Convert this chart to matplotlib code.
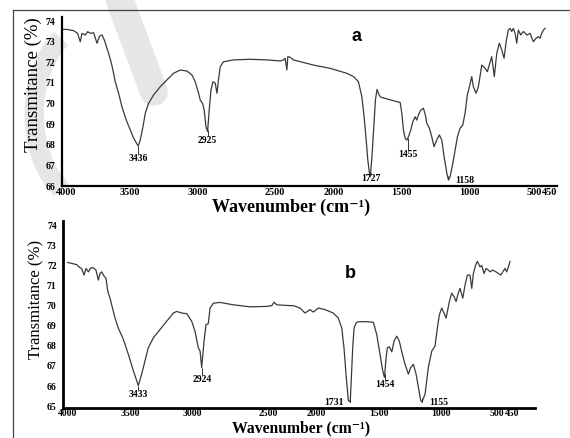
import numpy as np
import matplotlib
matplotlib.use("Agg")
import matplotlib.pyplot as plt
from matplotlib.lines import Line2D
from matplotlib.patches import Arc
from matplotlib.transforms import ScaledTranslation

# ---- data ----
wn_a = [4000, 3960, 3911, 3882, 3862, 3849, 3825, 3808, 3788, 3764, 3739, 3720, 3702, 3686,
        3666, 3654, 3636, 3622, 3605, 3580, 3556, 3524, 3494, 3470, 3445, 3436, 3421, 3401,
        3384, 3360, 3323, 3274, 3225, 3176, 3127, 3078, 3041, 3017, 2992, 2980, 2963, 2951,
        2938, 2926, 2914, 2901, 2887, 2870, 2857, 2846, 2833, 2809, 2735, 2613, 2490, 2392,
        2368, 2356, 2343, 2336, 2319, 2295, 2148, 2025, 1902, 1853, 1817, 1792, 1775, 1760,
        1748, 1736, 1729, 1716, 1704, 1692, 1680, 1665, 1652, 1510, 1498, 1486, 1474, 1461,
        1447, 1432, 1417, 1400, 1388, 1376, 1358, 1339, 1325, 1314, 1295, 1278, 1261, 1241,
        1222, 1204, 1187, 1167, 1155, 1143, 1123, 1106, 1089, 1070, 1050, 1033, 1016, 1001,
        984, 972, 952, 935, 910, 886, 869, 837, 818, 800, 781, 763, 746, 731, 715, 702, 690,
        678, 665, 653, 641, 624, 604, 579, 555, 531, 511, 494, 482, 469, 457, 445]
tr_a = [73.6, 73.6, 73.54, 73.41, 73.0, 73.41, 73.33, 73.49, 73.41, 73.44, 72.93, 73.27, 73.33,
        73.1, 72.68, 72.44, 72.03, 71.63, 71.06, 70.5, 69.85, 69.2, 68.72, 68.32, 68.04, 67.94,
        68.23, 68.88, 69.53, 70.01, 70.42, 70.82, 71.15, 71.47, 71.63, 71.58, 71.39, 71.06,
        70.5, 70.17, 70.01, 69.69, 68.88, 68.64, 69.69, 70.66, 71.06, 71.0, 70.5, 71.15, 71.79,
        72.03, 72.12, 72.15, 72.12, 72.07, 72.12, 72.2, 71.63, 72.28, 72.25, 72.12, 71.87,
        71.71, 71.47, 71.31, 71.06, 70.34, 69.36, 68.23, 67.26, 66.62, 66.45, 67.59, 68.88,
        70.17, 70.69, 70.42, 70.31, 70.05, 69.53, 68.72, 68.32, 68.23, 68.43, 68.72, 69.12,
        69.36, 69.2, 69.45, 69.69, 69.77, 69.45, 69.04, 68.8, 68.39, 67.91, 68.23, 68.48,
        68.23, 67.42, 66.62, 66.29, 66.45, 67.1, 67.75, 68.39, 68.8, 68.96, 69.53, 70.42,
        70.82, 71.31, 70.82, 70.5, 70.82, 71.87, 71.71, 71.55, 72.28, 71.31, 72.44, 72.93,
        72.6, 72.2, 73.0, 73.57, 73.65, 73.5, 73.65, 73.41, 72.93, 73.57, 73.33, 73.5, 73.33,
        73.41, 73.0, 73.17, 73.25, 73.17, 73.41, 73.57, 73.65]

wn_b = [4000, 3928, 3901, 3888, 3869, 3853, 3834, 3815, 3794, 3773, 3754, 3741, 3727, 3714,
        3692, 3682, 3674, 3660, 3647, 3620, 3594, 3553, 3513, 3473, 3446, 3433, 3406, 3379,
        3353, 3312, 3259, 3205, 3152, 3124, 3084, 3044, 3004, 2978, 2951, 2937, 2924, 2905,
        2889, 2871, 2857, 2830, 2777, 2670, 2536, 2402, 2361, 2343, 2321, 2214, 2188, 2134,
        2094, 2054, 2027, 1987, 1933, 1867, 1827, 1799, 1781, 1765, 1746, 1731, 1711, 1700,
        1684, 1666, 1598, 1545, 1518, 1492, 1470, 1456, 1443, 1433, 1417, 1397, 1379, 1357,
        1337, 1317, 1291, 1264, 1245, 1224, 1202, 1184, 1165, 1155, 1130, 1104, 1076, 1050,
        1031, 1015, 996, 978, 961, 935, 916, 897, 881, 863, 849, 827, 809, 790, 769, 755, 742,
        720, 710, 688, 675, 656, 640, 622, 608, 587, 560, 541, 522, 506, 488, 474, 461, 447]
tr_b = [72.15, 72.04, 71.88, 71.85, 71.52, 71.85, 71.68, 71.88, 71.88, 71.76, 71.27, 71.6,
        71.68, 71.52, 71.35, 70.86, 70.62, 70.37, 70.04, 69.38, 68.89, 68.32, 67.58, 66.76,
        66.27, 66.02, 66.59, 67.25, 67.9, 68.4, 68.81, 69.22, 69.63, 69.71, 69.63, 69.6, 69.22,
        68.73, 67.9, 67.74, 66.92, 68.24, 69.06, 69.1, 69.88, 70.12, 70.16, 70.04, 69.94,
        69.96, 70.0, 70.17, 70.04, 70.0, 70.0, 69.88, 69.63, 69.8, 69.68, 69.88, 69.8, 69.63,
        69.38, 68.89, 67.9, 66.59, 65.28, 65.2, 67.9, 68.89, 69.14, 69.2, 69.2, 69.17, 68.56,
        67.58, 66.76, 66.43, 67.41, 67.9, 67.95, 67.7, 68.24, 68.48, 68.24, 67.7, 67.08, 66.59,
        66.92, 67.08, 66.59, 65.94, 65.28, 65.2, 65.6, 66.92, 67.74, 67.99, 68.89, 69.55,
        69.88, 69.63, 69.38, 70.2, 70.62, 70.45, 70.2, 70.62, 70.86, 70.37, 71.02, 71.52,
        71.52, 70.86, 71.6, 72.09, 72.2, 71.93, 72.0, 71.6, 71.85, 71.77, 71.68, 71.77, 71.68,
        71.6, 71.52, 71.68, 71.85, 71.68, 71.93, 72.2]

peaks_a = [3436, 2925, 1727, 1455, 1158]
peaks_b = [3433, 2924, 1731, 1454, 1155]

xticks = [4000, 3500, 3000, 2500, 2000, 1500, 1000, 500, 450]
yticks_a = [66, 67, 68, 69, 70, 71, 72, 73, 74]
yticks_b = [65, 66, 67, 68, 69, 70, 71, 72, 73, 74]

serif = ['Liberation Serif', 'DejaVu Serif']
plt.rcParams['font.family'] = serif

fig = plt.figure(figsize=(5.7, 4.38), dpi=100)

# faint watermark and page frame from the scan
fig.add_artist(Arc((0.17, 0.74), 0.22, 0.42, angle=0, theta1=110, theta2=250,
                   transform=fig.transFigure, color='#e6e6e6', lw=14, zorder=0))
fig.add_artist(Line2D([0.21, 0.27], [1.0, 0.79], transform=fig.transFigure,
                      color='#e6e6e6', lw=20, solid_capstyle='round', zorder=0))
fig.add_artist(Line2D([0.023, 1.0], [0.977, 0.977], transform=fig.transFigure,
                      color='#444444', lw=0.9))
fig.add_artist(Line2D([0.023, 0.023], [0.0, 0.977], transform=fig.transFigure,
                      color='#444444', lw=0.9))

ax_a = fig.add_axes([0.1079, 0.5753, 0.8693, 0.3858])
ax_b = fig.add_axes([0.1105, 0.0696, 0.8281, 0.4258])


def style(ax, yticks, spine_w, shifts, xsize):
    ax.patch.set_alpha(0)
    for s in ['top', 'right']:
        ax.spines[s].set_visible(False)
    for s in ['left', 'bottom']:
        ax.spines[s].set_linewidth(spine_w)
        ax.spines[s].set_color('black')
    ax.set_xticks(xticks, labels=[str(t) for t in xticks])
    ax.set_yticks(yticks, labels=[str(t) for t in yticks])
    ax.tick_params(axis='x', length=0, pad=1.2, labelsize=xsize)
    ax.tick_params(axis='y', length=0, pad=4.5, labelsize=7)
    for lbl in ax.get_xticklabels() + ax.get_yticklabels():
        lbl.set_fontweight('bold')
    # the scan has a few shifted tick labels ("500450" run together)
    for lbl in ax.get_xticklabels():
        txt = lbl.get_text()
        if txt == '500':
            lbl.set_ha('right')
        elif txt == '450':
            lbl.set_ha('left')
        if txt in shifts:
            lbl.set_transform(lbl.get_transform() +
                              ScaledTranslation(shifts[txt] / 100, 0, fig.dpi_scale_trans))


def peak_labels(ax, wn, tr, peaks, drops, shifts):
    for p, d, s in zip(peaks, drops, shifts):
        t = np.interp(p, wn[::-1], tr[::-1])
        ax.vlines(p, t - d + 0.22, t, color='#333333', lw=0.7)
        ax.text(p + s, t - d, str(p), ha='center', va='center',
                fontsize=7, fontweight='bold')


# ---- panel a ----
ax_a.plot(wn_a, tr_a, color='#3a3a3a', lw=0.9)
ax_a.set_xlim(4000, 357)
ax_a.set_ylim(66, 74.2)
style(ax_a, yticks_a, 1.6, {'4000': 5, '2500': 9, '500': 4, '450': -2}, 7.3)
peak_labels(ax_a, np.array(wn_a), np.array(tr_a), peaks_a,
            [0.6, 0.5, 0.25, 0.78, 0.1], [0, 0, 0, 0, -125])
ax_a.set_ylabel('Transmitance (%)', fontsize=13.5)
ax_a.yaxis.set_label_coords(-0.039, 0.598)
ax_a.set_xlabel('Wavenumber (cm⁻¹)', fontsize=13, fontweight='bold')
ax_a.xaxis.set_label_coords(0.463, -0.075)
ax_a.text(0.596, 0.882, 'a', transform=ax_a.transAxes, ha='center', va='center',
          fontsize=13, fontweight='bold', family=['Liberation Sans', 'DejaVu Sans'])

# ---- panel b ----
ax_b.plot(wn_b, tr_b, color='#3a3a3a', lw=0.9)
ax_b.set_xlim(4038, 247)
ax_b.set_ylim(64.93, 74.21)
style(ax_b, yticks_b, 2.0, {'2500': 14, '500': 1, '450': -5}, 7)
peak_labels(ax_b, np.array(wn_b), np.array(tr_b), peaks_b,
            [0.43, 0.6, 0.0, 0.5, 0.0], [0, 0, 134, 0, -137])
ax_b.set_ylabel('Transmitance (%)', fontsize=12)
ax_b.yaxis.set_label_coords(-0.040, 0.581)
ax_b.set_xlabel('Wavenumber (cm⁻¹)', fontsize=11.3, fontweight='bold')
ax_b.xaxis.set_label_coords(0.504, -0.07)
ax_b.text(0.608, 0.719, 'b', transform=ax_b.transAxes, ha='center', va='center',
          fontsize=13, fontweight='bold', family=['Liberation Sans', 'DejaVu Sans'])

fig.savefig('out.png', dpi=100)
